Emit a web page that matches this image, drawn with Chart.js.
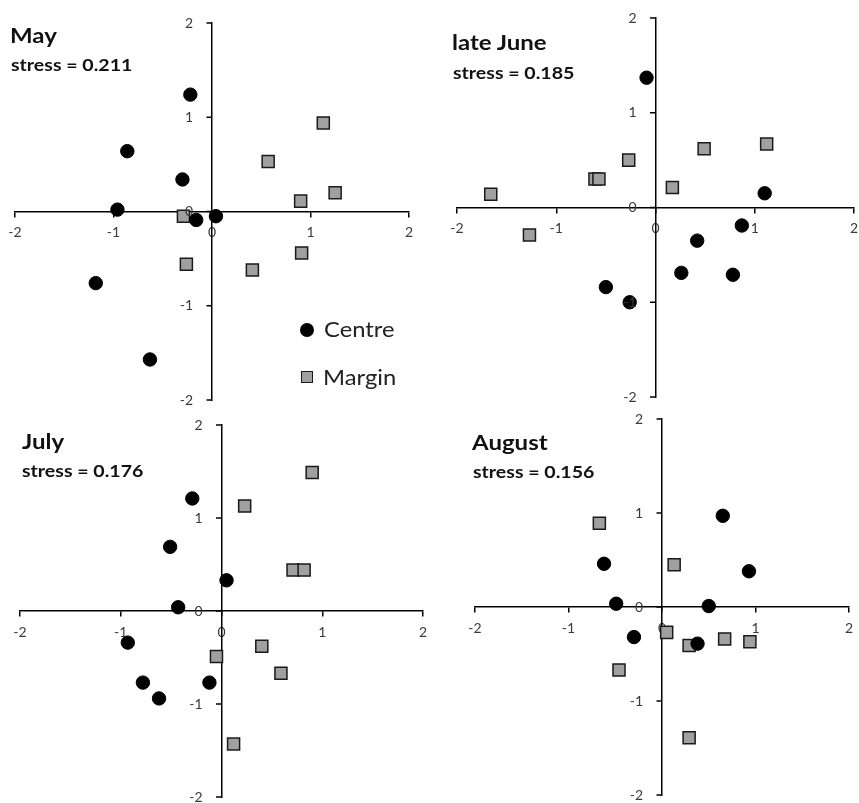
<!DOCTYPE html>
<html>
<head>
<meta charset="utf-8">
<script src="https://cdn.jsdelivr.net/npm/chart.js@4.4.1/dist/chart.umd.min.js"></script>
<style>
  html, body { margin:0; padding:0; background:#fff; width:859px; height:803px; overflow:hidden; }
  canvas { position:absolute; }
  .t { position:absolute; font-family: Lato, "Open Sans", sans-serif; font-weight:700; color:#111; line-height:1; white-space:nowrap; transform-origin:0 0; }
  .m { font-size:20px; transform:scaleX(1.2); }
  .s { font-size:17px; transform:scaleX(1.15); }
  .lg { position:absolute; font-family: Lato, "Open Sans", sans-serif; font-size:22px; color:#222; line-height:1; white-space:nowrap; transform-origin:0 0; transform:scaleX(1.08); }
  .dot { position:absolute; width:14px; height:14px; border-radius:50%; background:#000; }
  .sq { position:absolute; width:10px; height:10px; background:#a0a0a0; border:1.5px solid #1a1a1a; }
</style>
</head>
<body>
<canvas id="c1"></canvas>
<canvas id="c2"></canvas>
<canvas id="c3"></canvas>
<canvas id="c4"></canvas>

<div class="t m" style="left:10px;top:25px;">May</div>
<div class="t s" style="left:11px;top:56px;">stress = 0.211</div>
<div class="t m" style="left:452px;top:32px;">late June</div>
<div class="t s" style="left:453px;top:64px;">stress = 0.185</div>
<div class="t m" style="left:22px;top:431px;">July</div>
<div class="t s" style="left:22px;top:462px;">stress = 0.176</div>
<div class="t m" style="left:472px;top:432px;">August</div>
<div class="t s" style="left:473px;top:463px;">stress = 0.156</div>

<div class="dot" style="left:300px;top:323px;"></div>
<div class="lg" style="left:324px;top:318px;">Centre</div>
<div class="sq" style="left:301px;top:371px;"></div>
<div class="lg" style="left:323px;top:366px;">Margin</div>

<script>
// ---- Data (NMDS coordinates) ----
const panelNames = ["May", "late June", "July", "August"];
const seriesNames = ["Centre", "Margin"];
const tickValues = [-2, -1, 0, 1, 2];

const mayCentre = [[-0.22,1.24],[-0.86,0.64],[-0.30,0.34],[-0.96,0.02],[-0.16,-0.09],[0.04,-0.05],[-1.18,-0.76],[-0.63,-1.57]];
const mayMargin = [[1.13,0.94],[0.57,0.53],[1.25,0.20],[0.90,0.11],[-0.29,-0.05],[0.91,-0.44],[-0.26,-0.56],[0.41,-0.62]];

const juneCentre = [[-0.09,1.37],[1.10,0.15],[0.87,-0.19],[0.42,-0.35],[0.26,-0.69],[0.78,-0.71],[-0.50,-0.84],[-0.26,-1.00]];
const juneMargin = [[-1.66,0.14],[-1.27,-0.29],[-0.61,0.30],[-0.57,0.30],[-0.27,0.50],[0.17,0.21],[0.49,0.62],[1.12,0.67]];

const julyCentre = [[-0.29,1.21],[-0.51,0.69],[0.05,0.33],[-0.43,0.04],[-0.93,-0.34],[-0.78,-0.77],[-0.62,-0.94],[-0.12,-0.77]];
const julyMargin = [[0.90,1.49],[0.23,1.13],[0.71,0.44],[0.82,0.44],[0.40,-0.38],[-0.05,-0.49],[0.59,-0.67],[0.12,-1.43]];

const augCentre = [[0.65,0.97],[0.93,0.38],[-0.62,0.46],[-0.49,0.035],[0.50,0.01],[-0.30,-0.32],[0.38,-0.39]];
const augMargin = [[-0.67,0.89],[0.13,0.45],[0.05,-0.27],[0.29,-0.41],[0.67,-0.34],[0.94,-0.37],[-0.46,-0.67],[0.29,-1.39]];

// ---- Layout (chart areas in page pixels) ----
const PAD = 20;
const TICK_FONT = '14px Lato, "Open Sans", sans-serif';
const TICK_COLOR = '#3a3a3a';
const panels = [
  { id:"c1", area:[15, 23, 409, 400], centre: mayCentre,  margin: mayMargin },
  { id:"c2", area:[457, 18, 854, 397], centre: juneCentre, margin: juneMargin },
  { id:"c3", area:[20, 425, 423, 797], centre: julyCentre, margin: julyMargin },
  { id:"c4", area:[475, 419, 849, 795], centre: augCentre,  margin: augMargin }
];

const toPts = arr => arr.map(p => ({x:p[0], y:p[1]}));

// Draw y-axis tick marks and labels to the left of the crossing vertical axis
const crossYAxisLabels = {
  id: 'crossYAxisLabels',
  afterDraw(chart) {
    const xs = chart.scales.x, ys = chart.scales.y, ctx = chart.ctx;
    const x0 = xs.getPixelForValue(0);
    ctx.save();
    ctx.strokeStyle = '#000'; ctx.lineWidth = 1.5;
    ctx.font = TICK_FONT; ctx.fillStyle = TICK_COLOR;
    ctx.textAlign = 'right'; ctx.textBaseline = 'middle';
    ys.ticks.forEach(t => {
      const py = ys.getPixelForValue(t.value);
      ctx.beginPath(); ctx.moveTo(x0 - 5.5, py); ctx.lineTo(x0, py); ctx.stroke();
      ctx.fillText(String(t.value), x0 - 19, py);
    });
    ctx.restore();
  }
};

panels.forEach(p => {
  const [l, t, r, b] = p.area;
  const cv = document.getElementById(p.id);
  const w = (r - l) + 2*PAD, h = (b - t) + 2*PAD;
  cv.width = w; cv.height = h;
  cv.style.left = (l - PAD) + "px"; cv.style.top = (t - PAD) + "px";
  cv.style.width = w + "px"; cv.style.height = h + "px";

  new Chart(cv, {
    type: 'scatter',
    data: {
      datasets: [
        { label: seriesNames[0], data: toPts(p.centre), pointStyle:'circle', pointRadius:6.7,
          backgroundColor:'#000', borderColor:'#000', borderWidth:1 },
        { label: seriesNames[1], data: toPts(p.margin), pointStyle:'rect', pointRadius:8.5,
          backgroundColor:'#a0a0a0', borderColor:'#1a1a1a', borderWidth:1.5 }
      ]
    },
    options: {
      responsive:false, animation:false, devicePixelRatio:1,
      layout: { padding: PAD },
      plugins: { legend:{display:false}, tooltip:{enabled:false}, title:{display:false} },
      scales: {
        x: { type:'linear', position:{ y:0 },
             min: tickValues[0], max: tickValues[tickValues.length-1],
             afterBuildTicks: s => { s.ticks = tickValues.map(v => ({value:v})); },
             border: { display:true, color:'#000', width:1.5 },
             grid: { drawOnChartArea:false, color:'#000', lineWidth:1.5, tickLength:5 },
             ticks: { color:TICK_COLOR, font:{ family:'Lato, "Open Sans", sans-serif', size:14 }, padding:8 } },
        y: { type:'linear', position:{ x:0 },
             min: tickValues[0], max: tickValues[tickValues.length-1],
             afterBuildTicks: s => { s.ticks = tickValues.map(v => ({value:v})); },
             border: { display:true, color:'#000', width:1.5 },
             grid: { display:false },
             ticks: { display:false } }
      }
    },
    plugins: [crossYAxisLabels]
  });
});
</script>
</body>
</html>
